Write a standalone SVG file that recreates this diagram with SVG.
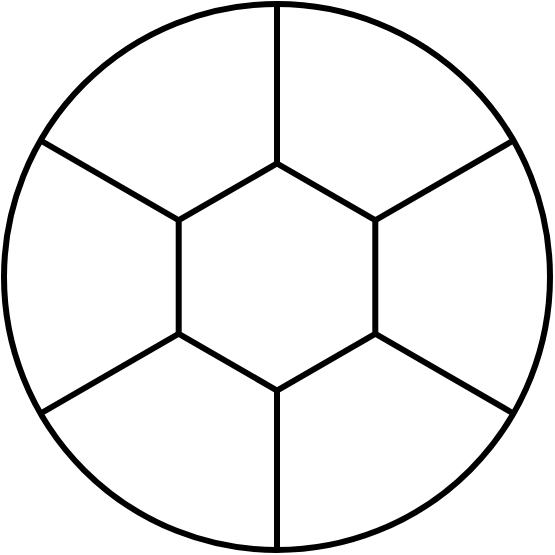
<svg xmlns="http://www.w3.org/2000/svg" width="555" height="555" viewBox="0 0 555 555">
<style>.s{fill:none;stroke:#000;stroke-width:6;stroke-linejoin:miter}</style>
<rect width="555" height="555" fill="#fff"/>
<g id="circle"><circle class="s" cx="277" cy="277" r="273"/></g>
<g id="hexagon"><polygon class="s" points="277,163.5 375.3,220.25 375.3,333.75 277,390.5 178.7,333.75 178.7,220.25"/></g>
<g id="connectors" class="s">
<line x1="277" y1="163.5" x2="277" y2="4"/>
<line x1="375.3" y1="220.25" x2="513.4" y2="140.5"/>
<line x1="375.3" y1="333.75" x2="513.4" y2="413.5"/>
<line x1="277" y1="390.5" x2="277" y2="550"/>
<line x1="178.7" y1="333.75" x2="40.6" y2="413.5"/>
<line x1="178.7" y1="220.25" x2="40.6" y2="140.5"/>
</g>
</svg>
